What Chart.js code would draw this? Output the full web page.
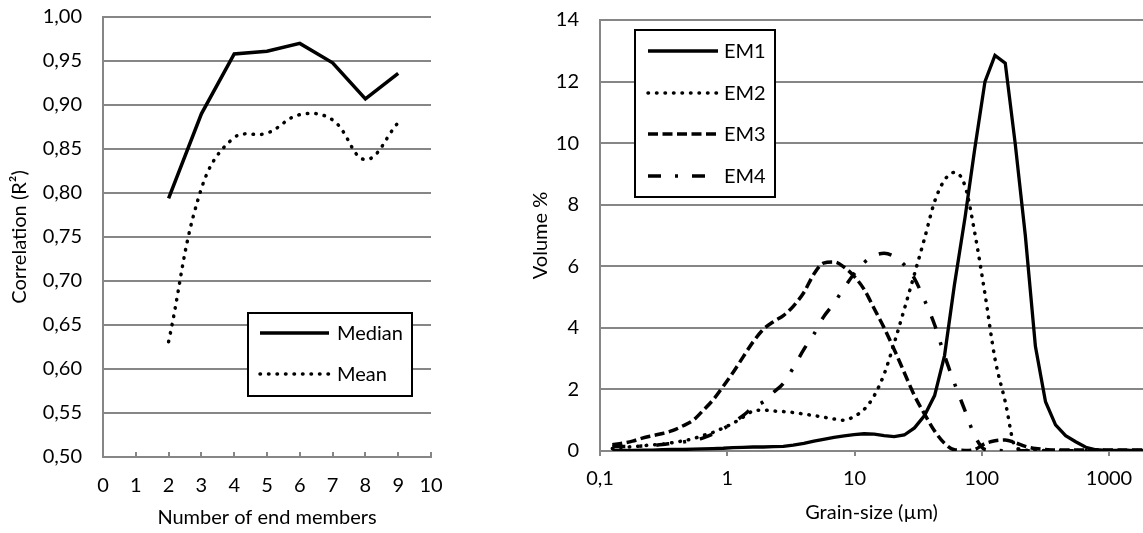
<!DOCTYPE html>
<html>
<head>
<meta charset="utf-8">
<title>End-member modelling</title>
<script src="https://cdn.jsdelivr.net/npm/chart.js@4.4.1/dist/chart.umd.min.js"></script>
<style>
  html, body { margin: 0; padding: 0; background: #fff; }
  #wrap { position: relative; width: 1143px; height: 533px; overflow: hidden; }
  .panel { position: absolute; top: 0; height: 533px; }
  #left { left: 0; width: 520px; }
  #right { left: 520px; width: 623px; }
</style>
</head>
<body>
<div id="wrap">
  <div class="panel" id="left"><canvas id="fitChart"></canvas></div>
  <div class="panel" id="right"><canvas id="emChart"></canvas></div>
</div>
<script>
// Goodness of fit vs. number of end members
const members = [2, 3, 4, 5, 6, 7, 8, 9];
const median = [0.794, 0.890, 0.958, 0.961, 0.970, 0.948, 0.907, 0.936];
const mean = [0.631, 0.805, 0.863, 0.868, 0.889, 0.883, 0.838, 0.880];

// Grain-size classes (µm) and end-member distributions (volume %)
const grainSize = [0.125, 0.15, 0.18, 0.215, 0.26, 0.31, 0.37, 0.45, 0.54, 0.64,
  0.77, 0.93, 1.11, 1.33, 1.6, 1.92, 2.3, 2.76, 3.3, 4,
  4.8, 5.7, 6.9, 8.3, 9.9, 11.9, 14.3, 17.1, 20.5, 24.6,
  29.6, 35.5, 42.6, 51, 61, 74, 88, 106, 127, 153,
  183, 220, 264, 317, 380, 456, 547, 657, 788, 946,
  1135, 1362, 1634, 1961];
const em1 = [0.02, 0.02, 0.02, 0.03, 0.03, 0.04, 0.05, 0.05, 0.06, 0.07,
  0.08, 0.09, 0.11, 0.12, 0.13, 0.13, 0.14, 0.15, 0.19, 0.25,
  0.32, 0.38, 0.44, 0.49, 0.53, 0.56, 0.55, 0.50, 0.47, 0.52,
  0.75, 1.15, 1.8, 3.1, 5.4, 7.6, 9.8, 12.0, 12.85, 12.6,
  10.0, 7.0, 3.4, 1.6, 0.85, 0.5, 0.3, 0.12, 0.04, 0.02,
  0.02, 0.02, 0.02, 0.02];
const em2 = [0.08, 0.12, 0.14, 0.17, 0.2, 0.22, 0.27, 0.33, 0.4, 0.5,
  0.6, 0.75, 0.9, 1.1, 1.3, 1.33, 1.3, 1.28, 1.25, 1.2,
  1.15, 1.1, 1.04, 1.0, 1.12, 1.35, 1.8, 2.5, 3.5, 4.6,
  5.75, 6.9, 8.1, 8.8, 9.05, 8.6, 7.1, 5.1, 3.0, 1.6,
  0.15, 0.03, 0.02, 0.02, 0.02, 0.02, 0.02, 0.02, 0.02, 0.02,
  0.02, 0.02, 0.02, 0.02];
const em3 = [0.2, 0.25, 0.32, 0.42, 0.5, 0.57, 0.66, 0.82, 1.0, 1.3,
  1.65, 2.1, 2.55, 3.05, 3.55, 3.95, 4.2, 4.4, 4.7, 5.15,
  5.75, 6.1, 6.14, 5.97, 5.68, 5.25, 4.62, 4.0, 3.3, 2.55,
  1.8, 1.2, 0.65, 0.25, 0.04, 0.02, 0.05, 0.24, 0.33, 0.36,
  0.27, 0.15, 0.08, 0.05, 0.03, 0.03, 0.03, 0.03, 0.03, 0.03,
  0.03, 0.03, 0.03, 0.03];
const em4 = [0.14, 0.15, 0.15, 0.16, 0.18, 0.21, 0.25, 0.29, 0.35, 0.42,
  0.55, 0.72, 0.92, 1.15, 1.42, 1.6, 1.9, 2.2, 2.7, 3.3,
  3.8, 4.35, 4.8, 5.3, 5.75, 6.12, 6.35, 6.42, 6.32, 6.05,
  5.6, 4.9, 4.1, 3.1, 2.2, 1.3, 0.5, 0.05, 0.02, 0.01,
  0.01, 0.01, 0.01, 0.01, 0.01, 0.01, 0.01, 0.01, 0.01, 0.01,
  0.01, 0.01, 0.01, 0.01];
const sizeTicks = [0.1, 1, 10, 100, 1000];
const sizeTickLabels = ['0,1', '1', '10', '100', '1000'];

const FONT = 'Lato, "Open Sans", sans-serif';
const FONT_SIZE = 20;
const GRID = '#868686';

Chart.defaults.font.family = FONT;
Chart.defaults.font.size = FONT_SIZE;
Chart.defaults.color = '#000';

const pts = (xs, ys) => xs.map((x, i) => ({ x: x, y: ys[i] }));

// y axes: keep the plot top fixed by the layout padding only
const fixY = w => s => { s.width = w; s.paddingTop = 0; s.paddingBottom = 0; };
const fixX = h => s => { s.height = h; s.paddingLeft = 0; s.paddingRight = 0; };

// legend drawn as a framed box inside the plot area
const boxLegend = {
  id: 'boxLegend',
  afterDraw(chart, args, o) {
    const ctx = chart.ctx;
    const area = chart.chartArea;
    const x = area.left + o.x, y = area.top + o.y;
    ctx.save();
    ctx.fillStyle = '#fff';
    ctx.fillRect(x, y, o.width, o.height);
    ctx.lineWidth = 2;
    ctx.strokeStyle = '#000';
    ctx.strokeRect(x, y, o.width, o.height);
    ctx.font = FONT_SIZE + 'px ' + FONT;
    ctx.textBaseline = 'middle';
    ctx.fillStyle = '#000';
    chart.data.datasets.forEach((ds, i) => {
      const ry = Math.round(y + o.firstRow + i * o.rowGap);
      ctx.lineWidth = ds.borderWidth;
      ctx.lineCap = ds.borderCapStyle || 'butt';
      ctx.setLineDash(ds.borderDash || []);
      ctx.beginPath();
      ctx.moveTo(x + o.lineStart, ry);
      ctx.lineTo(x + o.lineEnd, ry);
      ctx.stroke();
      ctx.setLineDash([]);
      ctx.fillText(ds.label, x + o.textX, ry + 1);
    });
    ctx.restore();
  }
};

// small tick marks pointing into the plot on the bottom axis
const innerTicks = {
  id: 'innerTicks',
  beforeDatasetsDraw(chart, args, o) {
    const xs = chart.scales.x;
    const ctx = chart.ctx;
    const yb = chart.chartArea.bottom;
    ctx.save();
    ctx.strokeStyle = GRID;
    ctx.lineWidth = 2;
    xs.ticks.forEach(t => {
      const px = Math.round(xs.getPixelForValue(t.value));
      ctx.beginPath();
      ctx.moveTo(px, yb);
      ctx.lineTo(px, yb - o.length);
      ctx.stroke();
    });
    ctx.restore();
  }
};

new Chart(document.getElementById('fitChart'), {
  type: 'line',
  data: {
    datasets: [
      {
        label: 'Median',
        data: pts(members, median),
        borderColor: '#000',
        borderWidth: 3.5,
        tension: 0,
        pointRadius: 0
      },
      {
        label: 'Mean',
        data: pts(members, mean),
        borderColor: '#000',
        borderWidth: 3.5,
        borderDash: [0.5, 8],
        borderCapStyle: 'round',
        tension: 0.4,
        pointRadius: 0
      }
    ]
  },
  options: {
    responsive: true,
    maintainAspectRatio: false,
    animation: false,
    devicePixelRatio: 1,
    layout: { padding: { top: 17, right: 89, left: 0, bottom: 0 } },
    plugins: {
      legend: { display: false },
      tooltip: { enabled: false },
      innerTicks: { length: 5 },
      boxLegend: {
        x: 145, y: 296, width: 164, height: 83,
        firstRow: 20, rowGap: 41,
        lineStart: 12, lineEnd: 81, textX: 89
      }
    },
    scales: {
      x: {
        type: 'linear',
        min: 0,
        max: 10,
        ticks: { stepSize: 1, padding: 17 },
        grid: { display: false, drawTicks: false },
        border: { display: true, color: GRID, width: 2 },
        title: {
          display: true,
          text: 'Number of end members',
          padding: { top: 0, bottom: 3 }
        },
        afterFit: fixX(76)
      },
      y: {
        min: 0.5,
        max: 1.0,
        ticks: {
          stepSize: 0.05,
          padding: 21,
          callback: v => v.toFixed(2).replace('.', ',')
        },
        grid: { color: GRID, lineWidth: 2, drawTicks: false },
        border: { display: true, color: GRID, width: 2 },
        title: {
          display: true,
          text: 'Correlation (R²)',
          padding: { top: 8, bottom: 0 }
        },
        afterFit: fixY(103)
      }
    }
  },
  plugins: [innerTicks, boxLegend]
});

new Chart(document.getElementById('emChart'), {
  type: 'line',
  data: {
    datasets: [
      {
        label: 'EM1',
        data: pts(grainSize, em1),
        borderColor: '#000',
        borderWidth: 3.3,
        tension: 0,
        pointRadius: 0
      },
      {
        label: 'EM2',
        data: pts(grainSize, em2),
        borderColor: '#000',
        borderWidth: 3.5,
        borderDash: [0.5, 8],
        borderCapStyle: 'round',
        cubicInterpolationMode: 'monotone',
        pointRadius: 0
      },
      {
        label: 'EM3',
        data: pts(grainSize, em3),
        borderColor: '#000',
        borderWidth: 3.5,
        borderDash: [10, 4.5],
        cubicInterpolationMode: 'monotone',
        pointRadius: 0
      },
      {
        label: 'EM4',
        data: pts(grainSize, em4),
        borderColor: '#000',
        borderWidth: 3.5,
        borderDash: [13, 14, 3, 14],
        cubicInterpolationMode: 'monotone',
        pointRadius: 0
      }
    ]
  },
  options: {
    responsive: true,
    maintainAspectRatio: false,
    animation: false,
    devicePixelRatio: 1,
    layout: { padding: { top: 20, right: 0, left: 0, bottom: 0 } },
    plugins: {
      legend: { display: false },
      tooltip: { enabled: false },
      boxLegend: {
        x: 35, y: 10, width: 140, height: 167,
        firstRow: 21, rowGap: 41.7,
        lineStart: 13, lineEnd: 83, textX: 89
      }
    },
    scales: {
      x: {
        type: 'logarithmic',
        min: 0.1,
        max: 1850,
        afterBuildTicks: s => { s.ticks = sizeTicks.map(v => ({ value: v })); },
        ticks: {
          autoSkip: false,
          maxRotation: 0,
          padding: 11,
          callback: (v, i) => sizeTickLabels[i]
        },
        grid: { display: true, drawOnChartArea: false, drawTicks: true, tickLength: 5, color: GRID, lineWidth: 2 },
        border: { display: true, color: GRID, width: 2 },
        title: {
          display: true,
          text: 'Grain-size (µm)',
          padding: { top: 0, bottom: 8 }
        },
        afterFit: fixX(82)
      },
      y: {
        min: 0,
        max: 14,
        ticks: { stepSize: 2, padding: 21 },
        grid: { color: GRID, lineWidth: 2, drawTicks: false },
        border: { display: true, color: GRID, width: 2 },
        title: {
          display: true,
          text: 'Volume %',
          padding: { top: 9, bottom: 0 }
        },
        afterFit: fixY(80)
      }
    }
  },
  plugins: [boxLegend]
});
</script>
</body>
</html>
